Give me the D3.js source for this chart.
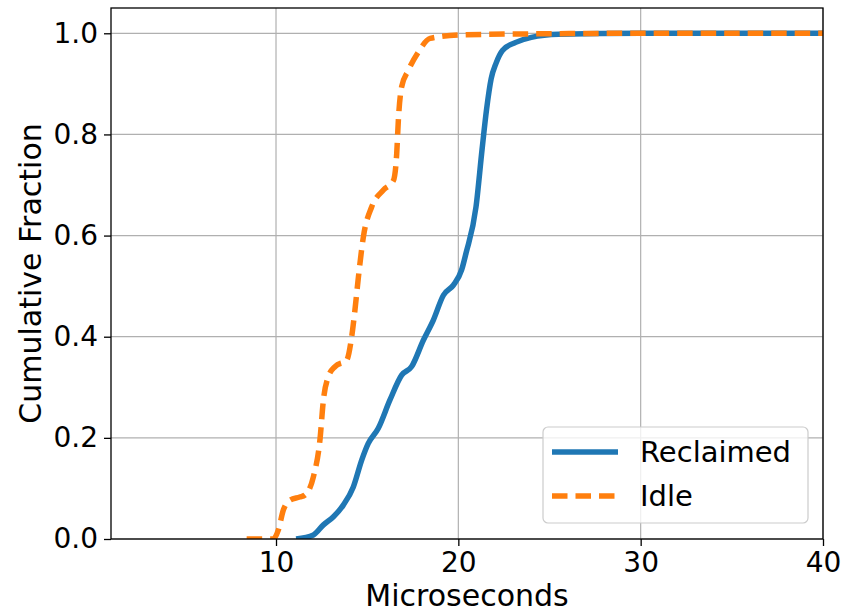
<!DOCTYPE html>
<html>
<head>
<meta charset="utf-8">
<script src="https://cdn.jsdelivr.net/npm/d3@7"></script>
<style>
  body { margin: 0; background: #fff; }
  text { font-family: "DejaVu Sans", sans-serif; fill: #000; }
</style>
</head>
<body>
<div id="chart"></div>
<script>
'use strict';

// CDF samples
const reclaimedX = [11.1, 12.05, 12.6, 13.15, 13.69, 14.24, 14.7, 15.06, 15.61, 16.25, 16.89, 17.44, 18.08, 18.63, 19.18, 19.73, 20.18, 20.42, 20.97, 21.3, 21.55, 21.8, 22.06, 22.42, 23.15, 24.0, 25.5, 30, 40];
const reclaimedY = [0, 0.008, 0.028, 0.044, 0.067, 0.103, 0.156, 0.189, 0.219, 0.275, 0.324, 0.341, 0.393, 0.433, 0.482, 0.502, 0.532, 0.565, 0.657, 0.77, 0.85, 0.91, 0.94, 0.966, 0.982, 0.992, 0.998, 1.0, 1.0];

const idleX = [8.39, 9.85, 10.13, 10.4, 10.77, 11.3, 11.59, 12.05, 12.41, 12.6, 12.87, 13.24, 13.88, 14.15, 14.33, 14.52, 14.79, 15.25, 15.89, 16.44, 16.62, 16.71, 16.89, 17.26, 17.81, 18.45, 20.27, 24.64, 30, 40];
const idleY = [0, 0, 0.018, 0.057, 0.077, 0.083, 0.087, 0.123, 0.196, 0.275, 0.321, 0.341, 0.354, 0.4, 0.453, 0.518, 0.597, 0.657, 0.69, 0.709, 0.762, 0.828, 0.894, 0.927, 0.963, 0.99, 0.997, 0.999, 1.0, 1.0];

const xTicks = [10, 20, 30, 40];
const yTicks = [0, 0.2, 0.4, 0.6, 0.8, 1.0];

const seriesNames = ["Reclaimed", "Idle"];
const seriesColors = ["#1f77b4", "#ff7f0e"];

const W = 843, H = 614;
const margin = {left: 111, right: 20, top: 8, bottom: 75};

const svg = d3.select("#chart").append("svg")
    .attr("width", W)
    .attr("height", H);

let x = d3.scaleLinear().domain([0.95, 40]).range([margin.left, W - margin.right]);
let y = d3.scaleLinear().domain([0, 1.05]).range([H - margin.bottom, margin.top]);

// grid
let grid = svg.append("g").attr("class", "grid");
grid.selectAll("line.gx")
    .data(xTicks)
    .enter().append("line")
    .attr("x1", d => x(d)).attr("x2", d => x(d))
    .attr("y1", y.range()[0]).attr("y2", y.range()[1])
    .attr("stroke", "#b0b0b0").attr("stroke-width", 1.2);
grid.selectAll("line.gy")
    .data(yTicks)
    .enter().append("line")
    .attr("x1", x.range()[0]).attr("x2", x.range()[1])
    .attr("y1", d => y(d)).attr("y2", d => y(d))
    .attr("stroke", "#b0b0b0").attr("stroke-width", 1.2);

// clip to the axes box
svg.append("clipPath").attr("id", "plotclip")
    .append("rect")
    .attr("x", x.range()[0]).attr("y", y.range()[1])
    .attr("width", x.range()[1] - x.range()[0])
    .attr("height", y.range()[0] - y.range()[1]);

let line = d3.line()
    .x(d => x(d[0]))
    .y(d => y(d[1]))
    .curve(d3.curveMonotoneX);

let series = [
    d3.zip(reclaimedX, reclaimedY),
    d3.zip(idleX, idleY)
];

let lines = svg.append("g").attr("clip-path", "url(#plotclip)");
lines.append("path")
    .datum(series[0])
    .attr("d", line)
    .attr("fill", "none")
    .attr("stroke", seriesColors[0])
    .attr("stroke-width", 5.5);
lines.append("path")
    .datum(series[1])
    .attr("d", line)
    .attr("fill", "none")
    .attr("stroke", seriesColors[1])
    .attr("stroke-width", 5.5)
    .attr("stroke-dasharray", "15.5,8");

// axes
let xAxis = svg.append("g")
    .attr("transform", "translate(0," + y.range()[0] + ")")
    .call(d3.axisBottom(x).tickValues(xTicks).tickSize(7).tickPadding(6).tickFormat(d3.format("d")));
let yAxis = svg.append("g")
    .attr("transform", "translate(" + x.range()[0] + ",0)")
    .call(d3.axisLeft(y).tickValues(yTicks).tickSize(7).tickPadding(6).tickFormat(d3.format(".1f")));

[xAxis, yAxis].forEach(a => {
    a.select(".domain").remove();
    a.selectAll("line").attr("stroke", "#000").attr("stroke-width", 1.3);
    a.selectAll("text").attr("font-size", 28).attr("font-family", "DejaVu Sans");
});

// spines
svg.append("rect")
    .attr("x", x.range()[0]).attr("y", y.range()[1])
    .attr("width", x.range()[1] - x.range()[0])
    .attr("height", y.range()[0] - y.range()[1])
    .attr("fill", "none")
    .attr("stroke", "#000")
    .attr("stroke-width", 1.3);

// axis labels
svg.append("text")
    .attr("x", (x.range()[0] + x.range()[1]) / 2)
    .attr("y", 606)
    .attr("text-anchor", "middle")
    .attr("font-size", 30)
    .text("Microseconds");
svg.append("text")
    .attr("transform", "translate(41," + (y.range()[0] + y.range()[1]) / 2 + ") rotate(-90)")
    .attr("text-anchor", "middle")
    .attr("font-size", 30)
    .text("Cumulative Fraction");

// legend
let legend = svg.append("g").attr("class", "legend");
legend.append("rect")
    .attr("x", 543).attr("y", 427)
    .attr("width", 265).attr("height", 96)
    .attr("rx", 5)
    .attr("fill", "#fff").attr("fill-opacity", 0.8)
    .attr("stroke", "#cccccc").attr("stroke-width", 1.2);

seriesNames.forEach((name, i) => {
    let ly = 452 + i * 44;
    legend.append("line")
        .attr("x1", 552).attr("x2", 618)
        .attr("y1", ly).attr("y2", ly)
        .attr("stroke", seriesColors[i])
        .attr("stroke-width", 5.5)
        .attr("stroke-dasharray", i === 1 ? "15.5,8" : null);
    legend.append("text")
        .attr("x", 640)
        .attr("y", ly + 10)
        .attr("font-size", 29)
        .text(name);
});
</script>
</body>
</html>
